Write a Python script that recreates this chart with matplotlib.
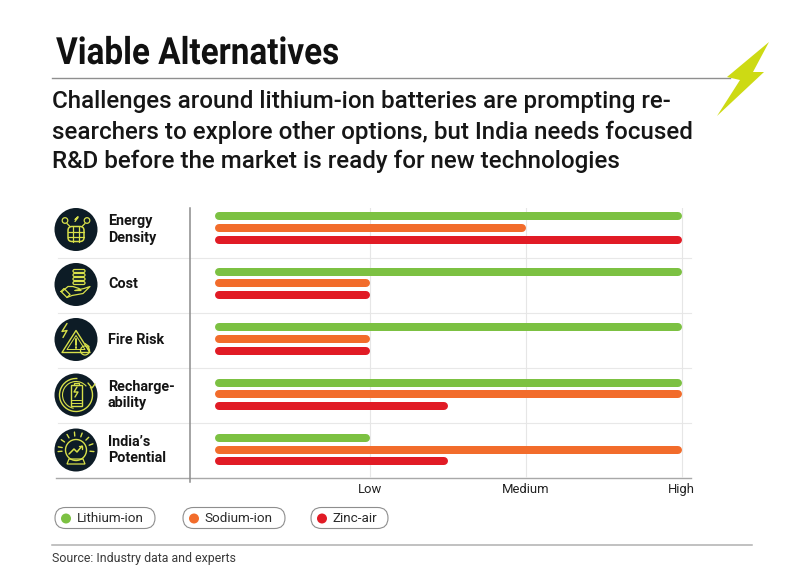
import numpy as np
import matplotlib
matplotlib.use("Agg")
import matplotlib.pyplot as plt
from matplotlib.patches import Circle, FancyBboxPatch, Polygon, Rectangle, Arc
from matplotlib.patheffects import AbstractPathEffect
from matplotlib.transforms import Affine2D

plt.rcParams['font.family'] = ['Roboto', 'DejaVu Sans']

# Data
metrics = ["Energy\nDensity", "Cost", "Fire Risk", "Recharge-\nability", "India’s\nPotential"]
level_labels = ["Low", "Medium", "High"]
lithium = [3, 3, 3, 3, 1]
sodium = [2, 1, 1, 3, 3]
zinc = [3, 1, 1, 1.5, 1.5]
series_names = ["Lithium-ion", "Sodium-ion", "Zinc-air"]
series_colors = ["#7CC142", "#F26C2B", "#E11B25"]

W, H = 801, 579
NAVY = "#0D1C26"
YEL = "#D8E04A"


# squeezes text sideways, the title face is a condensed one
class Squeeze(AbstractPathEffect):
    def __init__(self, x0, s):
        super().__init__()
        self.x0, self.s = x0, s

    def draw_path(self, renderer, gc, tpath, affine, rgbFace=None):
        t = affine + Affine2D().translate(-self.x0, 0).scale(self.s, 1).translate(self.x0, 0)
        renderer.draw_path(gc, tpath, t, rgbFace)


fig = plt.figure(figsize=(W / 100, H / 100), dpi=100, facecolor="white")

# overlay in pixel coordinates for the furniture
bg = fig.add_axes([0, 0, 1, 1])
bg.set_xlim(0, W)
bg.set_ylim(H, 0)
bg.axis("off")

# chart axes, x: 0..High, y: row number
left, right, top, bottom = 190, 691, 208, 477.5
ax = fig.add_axes([left / W, 1 - bottom / H, (right - left) / W, (bottom - top) / H])
ax.patch.set_alpha(0)
px_per_unit = 155.6
x0 = (214.8 - left) / px_per_unit
ax.set_xlim(-x0, (right - left) / px_per_unit - x0)
ax.set_ylim(4.5, -0.36)

bar_lw = 8 * 72 / 100
cap = 4 / px_per_unit
offset = 11.7 / 55.4
y = np.arange(len(metrics))
for vals, off, col in zip([lithium, sodium, zinc], [-offset, 0, offset], series_colors):
    ax.hlines(y + off, cap, np.array(vals) - cap, color=col, linewidth=bar_lw,
              capstyle="round", zorder=3)

ax.set_xticks([1, 2, 3])
ax.set_xticklabels(level_labels, fontsize=9.4, color="#222222")
ax.tick_params(axis="x", length=0, pad=4)
ax.set_yticks([])
ax.grid(axis="x", color="#E6E6E6", linewidth=0.8, zorder=0)
for s in ["top", "right", "left", "bottom"]:
    ax.spines[s].set_visible(False)

# row separators and axis lines
for yy in [257.5, 312.5, 367.5, 422.5]:
    bg.plot([58, 691], [yy, yy], color="#E8E8E8", lw=0.8)
bg.plot([56, 691], [477.5, 477.5], color="#A8A8A8", lw=1.0)
bg.plot([189.5, 189.5], [208, 482], color="#8C8C8C", lw=1.1)


def ln(xs, ys, lw=0.9):
    bg.plot(xs, ys, color=YEL, lw=lw, solid_capstyle="round", zorder=6)


def ring(cx, cy, r, lw=0.9):
    bg.add_patch(Circle((cx, cy), r, fill=False, ec=YEL, lw=lw, zorder=6))


def icon_energy(c, m):
    ring(c - 11, m - 9, 2.8)
    ring(c + 11, m - 9, 2.8)
    ln([c - 1, c + 2, c - 1, c + 2], [m - 8, m - 12, m - 10, m - 13])
    ln([c - 9, c - 6], [m - 6, m - 3])
    ln([c + 9, c + 6], [m - 6, m - 3])
    bg.add_patch(FancyBboxPatch((c - 8, m - 3), 16, 15, boxstyle="round,pad=0,rounding_size=4",
                                fill=False, ec=YEL, lw=1.1, zorder=6))
    for dx in [-3, 3]:
        ln([c + dx, c + dx], [m - 3, m + 12])
    for dy in [2, 7]:
        ln([c - 8, c + 8], [m + dy, m + dy])


def icon_cost(c, m):
    for dy in [-15, -11, -7, -3]:
        bg.add_patch(FancyBboxPatch((c - 3, m + dy), 12, 3, boxstyle="round,pad=0,rounding_size=1.5",
                                    fill=False, ec=YEL, lw=0.9, zorder=6))
    ln([c - 14, c - 8, c - 3, c + 3, c + 5, c - 1],
       [m + 7, m + 2, m + 2, m + 4, m + 6, m + 6])
    ln([c - 1, c + 8, c + 14, c + 7, c - 4, c - 9],
       [m + 6, m + 4, m + 2, m + 9, m + 11, m + 13])
    ln([c - 15, c - 9, c - 6, c - 12, c - 15], [m + 7, m + 13, m + 10, m + 4, m + 7])


def icon_fire(c, m):
    bg.add_patch(Polygon([[c, m - 9], [c + 14, m + 13], [c - 14, m + 13]], closed=True,
                         fill=False, ec=YEL, lw=1.0, joinstyle="round", zorder=6))
    bg.add_patch(Polygon([[c, m - 4], [c + 9, m + 10], [c - 9, m + 10]], closed=True,
                         fill=False, ec=YEL, lw=0.7, joinstyle="round", zorder=6))
    ln([c, c], [m - 1, m + 5], lw=1.4)
    ln([c, c], [m + 7, m + 8], lw=1.4)
    ln([c - 9, c - 14, c - 9, c - 13], [m - 16, m - 8, m - 9, m - 2], lw=1.0)
    ring(c + 9, m + 11, 4.5, lw=0.9)
    ln([c + 9, c + 13, c + 12], [m + 4, m + 7, m + 10])


def icon_recharge(c, m):
    bg.add_patch(Arc((c, m), 33, 33, theta1=-30, theta2=275, ec=YEL, lw=1.0, zorder=6))
    bg.add_patch(Arc((c, m), 27, 27, theta1=100, theta2=320, ec=YEL, lw=0.8, zorder=6))
    ln([c + 12, c + 16, c + 19], [m - 12, m - 7, m - 11], lw=1.0)
    bg.add_patch(Rectangle((c - 5.5, m - 10), 11, 21, fill=False, ec=YEL, lw=1.0, zorder=6))
    bg.add_patch(Rectangle((c - 2.5, m - 12.5), 5, 2.5, fill=False, ec=YEL, lw=0.9, zorder=6))
    ln([c + 1, c - 2, c + 2, c - 1], [m - 8, m - 3, m - 3, m + 2], lw=1.0)
    for dy in [5, 7.5]:
        ln([c - 5, c + 5], [m + dy, m + dy], lw=0.7)


def icon_india(c, m):
    ring(c, m, 10.5, lw=1.0)
    ln([c - 7, c - 2, c + 1, c + 6], [m + 4, m - 1, m + 2, m - 4], lw=1.1)
    ln([c + 3, c + 6, c + 6], [m - 4, m - 4, m - 1], lw=1.0)
    bg.add_patch(Polygon([[c - 7, m + 9], [c + 7, m + 9], [c + 9, m + 14], [c - 9, m + 14]],
                         closed=True, fill=False, ec=YEL, lw=0.9, zorder=6))
    for a in np.deg2rad([-170, -145, -120, -95, -70, -45, -20, 5, 180 - 5]):
        ln([c + 14 * np.cos(a), c + 18 * np.cos(a)], [m + 14 * np.sin(a), m + 18 * np.sin(a)], lw=1.0)


icons = [icon_energy, icon_cost, icon_fire, icon_recharge, icon_india]
centers = [229.5, 284.5, 339.5, 395, 450]
for name, draw, m in zip(metrics, icons, centers):
    bg.add_patch(Circle((76, m), 21.5, fc=NAVY, ec="none", zorder=5))
    draw(76, m)
    bg.text(108, m, name, fontsize=10.4, fontweight="bold", color="#141414", va="center",
            ha="left", linespacing=1.2, zorder=6)

# title block
bg.text(56, 64, "Viable Alternatives", fontsize=27, fontweight="bold", color="#111111",
        va="baseline", path_effects=[Squeeze(56, 0.887)])
bg.plot([52, 730], [77.5, 77.5], color="#8F8F8F", lw=1.0)
bg.add_patch(Polygon([[769, 42], [753, 72], [764, 72], [717, 116], [740, 80], [727, 77]],
                     closed=True, fc="#CDDA14", ec="none", zorder=4))
subtitle = ["Challenges around lithium-ion batteries are prompting re-",
            "searchers to explore other options, but India needs focused",
            "R&D before the market is ready for new technologies"]
for line, by in zip(subtitle, [108, 139, 168]):
    bg.text(52, by, line, fontsize=17.37, fontweight="medium", color="#161616", va="baseline")

# legend pills
pill_x = [(55, 155), (183, 285), (311, 388)]
for name, col, (a, b) in zip(series_names, series_colors, pill_x):
    bg.add_patch(FancyBboxPatch((a, 507.5), b - a, 21, boxstyle="round,pad=0,rounding_size=10.5",
                                fc="white", ec="#8E8E8E", lw=0.8))
    bg.add_patch(Circle((a + 11, 518.5), 5, fc=col, ec="none", zorder=4))
    bg.text(a + 21.5, 518.5, name, fontsize=9.7, color="#2A2A2A", va="center", ha="left")

# source
bg.plot([52, 752], [544.5, 544.5], color="#B0B0B0", lw=1.1)
bg.text(52, 558.5, "Source: Industry data and experts", fontsize=8.9, color="#3A3A3A", va="center")

fig.savefig("out.png", dpi=100, facecolor="white")
